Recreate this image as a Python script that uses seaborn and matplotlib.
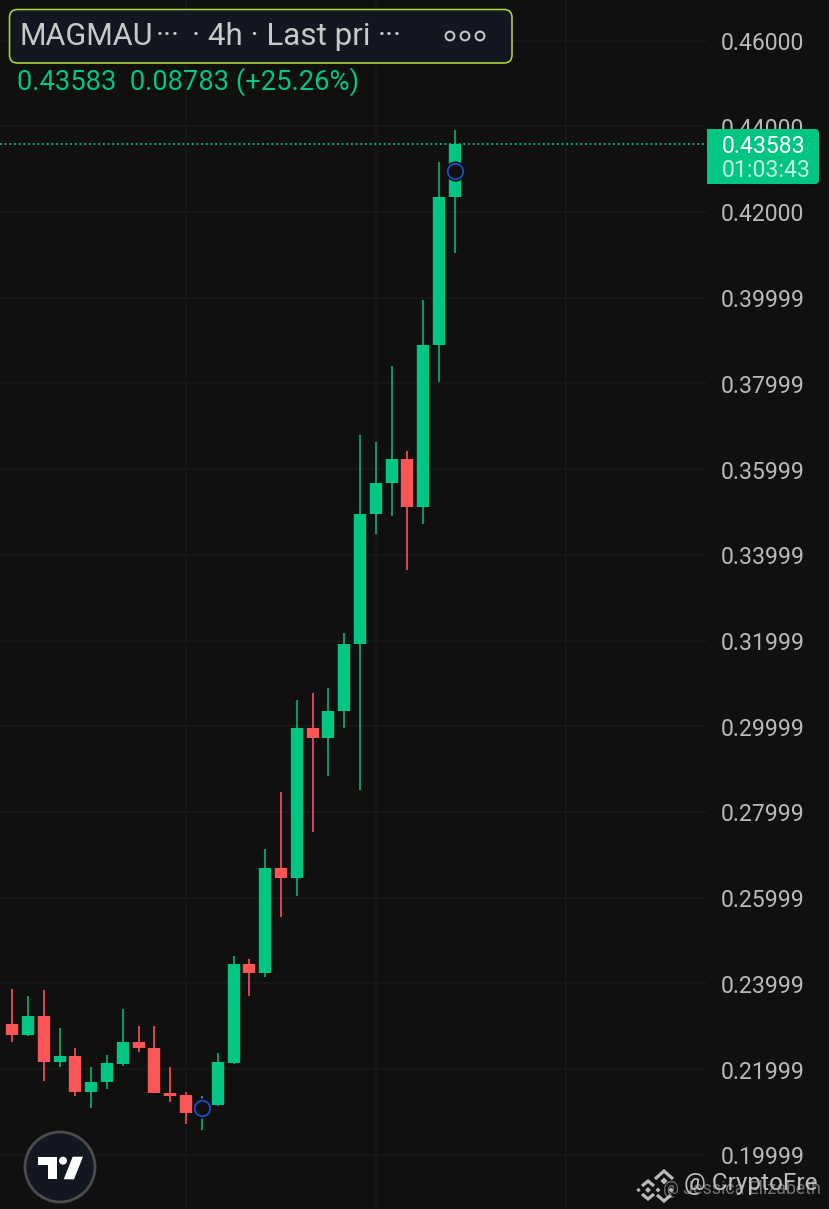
import matplotlib
matplotlib.use('Agg')
import matplotlib.pyplot as plt
import matplotlib.patches as mpatches
from matplotlib.transforms import IdentityTransform
import pandas as pd
import seaborn as sns

opens = [0.23178, 0.23054, 0.22804, 0.23234, 0.22174, 0.22299, 0.21473, 0.21693, 0.22120, 0.22641,
         0.22501, 0.21450, 0.21388, 0.20977, 0.21170, 0.22150, 0.24447, 0.24251, 0.26702, 0.26455,
         0.29963, 0.29730, 0.30360, 0.31917, 0.34959, 0.35675, 0.36235, 0.35106, 0.38897, 0.42351]
highs = [0.23178, 0.23863, 0.23714, 0.23847, 0.22960, 0.22487, 0.22050, 0.22338, 0.23411, 0.23000,
         0.23000, 0.22050, 0.21457, 0.21373, 0.22377, 0.24648, 0.24571, 0.27139, 0.28476, 0.30617,
         0.30773, 0.30890, 0.32174, 0.36786, 0.36623, 0.38397, 0.36429, 0.39938, 0.43159, 0.43906]
lows = [0.23037, 0.22627, 0.22780, 0.21730, 0.22050, 0.21373, 0.21100, 0.21536, 0.22073, 0.22393,
        0.21450, 0.21233, 0.20727, 0.20579, 0.21147, 0.22127, 0.23714, 0.24151, 0.25558, 0.26042,
        0.27543, 0.28843, 0.29963, 0.28516, 0.34492, 0.34905, 0.33635, 0.34709, 0.38040, 0.41051]
closes = [0.23037, 0.22804, 0.23234, 0.22174, 0.22299, 0.21473, 0.21693, 0.22136, 0.22641, 0.22501,
          0.21450, 0.21373, 0.20977, 0.21233, 0.22174, 0.24447, 0.24251, 0.26702, 0.26455, 0.29963,
          0.29730, 0.30360, 0.31917, 0.34959, 0.35675, 0.36235, 0.35106, 0.38897, 0.42351, 0.43583]
last_price = 0.43583

tick_values = [0.46, 0.44, 0.42, 0.39999, 0.37999, 0.35999, 0.33999, 0.31999, 0.29999, 0.27999,
               0.25999, 0.23999, 0.21999, 0.19999]
tick_labels = ['0.46000', '0.44000', '0.42000', '0.39999', '0.37999', '0.35999', '0.33999', '0.31999',
               '0.29999', '0.27999', '0.25999', '0.23999', '0.21999', '0.19999']
time_grid = [12, 24, 36]
marker_idx = [13, 29]
marker_price = [0.21093, 0.42965]

# --- STYLE ---
W, H = 829, 1209
BG = '#101010'
GRID = '#181818'
UP = '#00c584'
DOWN = '#fb5558'
UP_WICK = '#08a873'
DOWN_WICK = '#ee4a50'
LABEL = '#b9b9b9'
sns.set_theme(style='dark', rc={'figure.facecolor': BG, 'axes.facecolor': BG, 'savefig.facecolor': BG})
plt.rcParams['font.family'] = ['Roboto', 'DejaVu Sans']


def px(n):
    return n * 72 / 100


# the extra half pixel stops the canvas size rounding down to 828
fig = plt.figure(figsize=((W + 0.5) / 100, (H + 0.5) / 100), dpi=100)
ax = fig.add_axes([0, 0, 707 / W, 1])

# --- CANDLES ---
df = pd.DataFrame({'idx': range(len(opens)), 'open': opens, 'high': highs, 'low': lows, 'close': closes})
df['dir'] = ['up' if c >= o else 'down' for o, c in zip(opens, closes)]
wicks = df.melt(id_vars=['idx', 'dir'], value_vars=['low', 'high'], value_name='price')
bodies = df.melt(id_vars=['idx', 'dir'], value_vars=['open', 'close'], value_name='price')

sns.lineplot(data=wicks, x='idx', y='price', hue='dir', units='idx', estimator=None, legend=False,
             palette={'up': UP_WICK, 'down': DOWN_WICK}, linewidth=px(1.8), solid_capstyle='butt', ax=ax, zorder=3)
sns.lineplot(data=bodies, x='idx', y='price', hue='dir', units='idx', estimator=None, legend=False,
             palette={'up': UP, 'down': DOWN}, linewidth=px(12.4), solid_capstyle='butt', ax=ax, zorder=4)

# session markers, dark halo then blue ring
marks = pd.DataFrame({'idx': marker_idx, 'price': marker_price})
sns.scatterplot(data=marks, x='idx', y='price', s=210, color=BG, linewidth=0, ax=ax, zorder=5)
sns.scatterplot(data=marks, x='idx', y='price', s=125, color=BG, edgecolor='#1f4fd0', linewidth=px(1.7), ax=ax, zorder=6)

ax.axhline(last_price, color=UP, linewidth=px(1.8), linestyle=(0, (1, 1.6)), zorder=3)

# --- AXES ---
ax.set_xlim(3.6 / 15.8, (707 + 3.6) / 15.8)
ax.set_ylim(0.469570 - 1209 * 0.00023343, 0.469570)
ax.yaxis.tick_right()
ax.set_yticks(tick_values)
ax.set_yticklabels(tick_labels)
ax.set_xticks(time_grid)
ax.set_xticklabels([])
ax.tick_params(axis='y', length=0, pad=px(13), labelsize=16.6, labelcolor=LABEL)
ax.tick_params(axis='x', length=0)
ax.grid(True, color=GRID, linewidth=px(1.5))
ax.set_axisbelow(True)
ax.set_xlabel('')
ax.set_ylabel('')
sns.despine(ax=ax, left=True, right=True, top=True, bottom=True)


# --- OVERLAYS, pixel coordinates from the top left ---
def rbox(x0, y0, x1, y1, r, **kw):
    p = mpatches.FancyBboxPatch((x0 + r, H - y1 + r), x1 - x0 - 2 * r, y1 - y0 - 2 * r,
                                boxstyle=f'round,pad={r},rounding_size={r}', transform=IdentityTransform(), **kw)
    fig.add_artist(p)
    return p


def txt(x, y, s, size, color, **kw):
    return fig.text(x / W, 1 - y / H, s, fontsize=size, color=color, ha='left', va='center', **kw)


def poly(points, **kw):
    p = mpatches.Polygon([(x, H - y) for x, y in points], closed=kw.pop('closed', True),
                         transform=IdentityTransform(), **kw)
    fig.add_artist(p)


def ring(x, y, r, **kw):
    c = mpatches.Circle((x, H - y), r, transform=IdentityTransform(), **kw)
    fig.add_artist(c)


# legend header
rbox(9.5, 9.5, 512, 63, 8, facecolor='#131722', edgecolor='#b0d63c', linewidth=px(1.6))
txt(19, 36.5, 'MAGMAU', 22, '#c9c9c9')
txt(156, 36.5, '···', 22, '#c9c9c9')
txt(192, 36.5, '· 4h · Last pri', 22.6, '#c9c9c9')
txt(378, 36.5, '···', 22, '#c9c9c9')
for cx in [450, 465, 480]:
    ring(cx, 36, 4.4, facecolor='none', edgecolor='#c9c9c9', linewidth=px(2))
txt(17, 81.5, '0.43583  0.08783 (+25.26%)', 19.7, UP)

# last price tag
rbox(707, 129, 819, 184, 4, facecolor=UP, edgecolor='none')
fig.add_artist(mpatches.Rectangle((707, H - 184), 40, 55, facecolor=UP, edgecolor='none',
                                  transform=IdentityTransform()))
txt(721, 146, '0.43583', 16.6, '#ffffff')
txt(721, 170.5, '01:03:43', 16.6, '#c4efdf')

# logo badge
ring(60, 1167, 35, facecolor='#131722', edgecolor='#4b4b4d', linewidth=px(2.8))
poly([(38.3, 1156.7), (57.3, 1156.7), (57.3, 1179.3), (48.3, 1179.3), (48.3, 1165), (38.3, 1165)],
     facecolor='white', edgecolor='none')
ring(63, 1160.7, 4, facecolor='white', edgecolor='none')
poly([(72.7, 1156.7), (83, 1156.7), (74, 1179.3), (63.7, 1179.3)], facecolor='white', edgecolor='none')

# watermark
wm = '#d9d9d9'
for cx, cy, r in [(664, 1181, 3.5), (648, 1190, 3), (638.5, 1190, 2.2), (658, 1190, 2.5), (671, 1190, 2.5)]:
    poly([(cx - r, cy), (cx, cy - r), (cx + r, cy), (cx, cy + r)], facecolor=wm, edgecolor='none', alpha=0.85)
for pts in [[(655, 1179), (664, 1171), (673, 1179)], [(642, 1186), (648, 1181), (654, 1186)],
            [(642, 1194), (648, 1199), (654, 1194)], [(657, 1195), (664, 1201), (671, 1195)]]:
    poly(pts, closed=False, facecolor='none', edgecolor=wm, linewidth=px(3.2), alpha=0.85)
txt(684, 1183, '@ CryptoFre', 17.6, '#dcdcdc', alpha=0.85)
txt(663, 1189, '@ Jessica Elizabeth', 12.8, '#c0c0c0', alpha=0.55)

fig.savefig('out.png', dpi=100, facecolor=BG)
